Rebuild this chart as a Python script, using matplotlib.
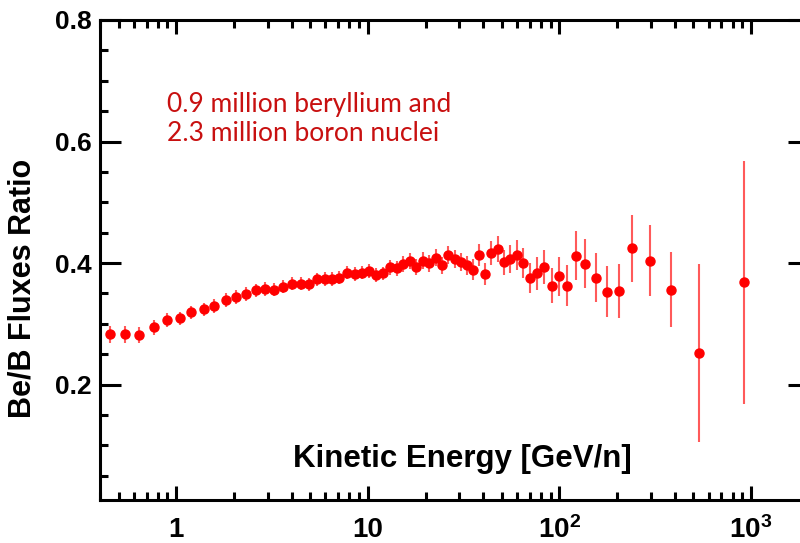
import matplotlib
matplotlib.use('Agg')
import matplotlib.pyplot as plt
import matplotlib.ticker as mticker
import numpy as np

# Be/B flux ratio vs kinetic energy
energy = [0.45, 0.538, 0.641, 0.762, 0.893, 1.04, 1.20, 1.39, 1.58, 1.81,
          2.04, 2.30, 2.60, 2.91, 3.25, 3.61, 4.02, 4.46, 4.93, 5.45,
          5.94, 6.52, 7.11, 7.78, 8.52, 9.30, 10.1, 11.0, 12.0, 13.1,
          14.2, 15.3, 16.6, 17.9, 19.5, 20.9, 22.7, 24.5, 26.3, 28.4,
          30.6, 32.9, 35.5, 38.1, 41.0, 44.0, 47.5, 51.3, 55.3, 59.7,
          64.4, 70.0, 75.9, 83.1, 90.9, 100, 110, 122, 136, 155,
          176, 205, 240, 295, 381, 536, 920]
ratio = [0.283, 0.283, 0.282, 0.294, 0.306, 0.309, 0.319, 0.324, 0.329, 0.339,
         0.344, 0.349, 0.355, 0.357, 0.356, 0.361, 0.366, 0.366, 0.365, 0.373,
         0.374, 0.374, 0.376, 0.384, 0.382, 0.384, 0.387, 0.380, 0.383, 0.393,
         0.391, 0.399, 0.403, 0.393, 0.404, 0.400, 0.409, 0.396, 0.413, 0.406,
         0.402, 0.396, 0.389, 0.413, 0.382, 0.417, 0.423, 0.401, 0.406, 0.413,
         0.400, 0.375, 0.383, 0.394, 0.363, 0.378, 0.363, 0.412, 0.399, 0.376,
         0.353, 0.354, 0.424, 0.404, 0.356, 0.252, 0.368]
err = [0.014, 0.014, 0.013, 0.012, 0.012, 0.011, 0.011, 0.011, 0.011, 0.011,
       0.011, 0.011, 0.011, 0.011, 0.011, 0.011, 0.011, 0.011, 0.011, 0.011,
       0.011, 0.011, 0.011, 0.011, 0.011, 0.011, 0.011, 0.011, 0.011, 0.012,
       0.012, 0.013, 0.013, 0.013, 0.014, 0.014, 0.014, 0.014, 0.015, 0.015,
       0.015, 0.016, 0.017, 0.018, 0.018, 0.020, 0.022, 0.021, 0.023, 0.025,
       0.025, 0.025, 0.027, 0.028, 0.028, 0.032, 0.033, 0.040, 0.040, 0.040,
       0.042, 0.045, 0.055, 0.058, 0.062, 0.146, 0.200]

x_ticks = [1, 10, 100, 1000]
x_ticklabels = ['1', '10', r'$10^{2}$', r'$10^{3}$']
y_ticks = [0.2, 0.4, 0.6, 0.8]
note = ['0.9 million beryllium and', '2.3 million boron nuclei']

plt.rcParams['font.family'] = 'Liberation Sans'
plt.rcParams['font.weight'] = 'bold'
plt.rcParams['mathtext.fontset'] = 'custom'
plt.rcParams['mathtext.rm'] = 'Liberation Sans:bold'
plt.rcParams['mathtext.default'] = 'rm'

fig = plt.figure(figsize=(8, 5.43), dpi=100)
ax = fig.add_axes([0.125, 0.0792, 0.886, 0.884])

ax.errorbar(energy, ratio, yerr=err, fmt='o', color='#ff0000', markersize=6.5,
            ecolor='#ff5a5a', elinewidth=1.5, capsize=0, zorder=3)

ax.set_xscale('log')
ax.set_xlim(0.4, 2000)
ax.set_ylim(0.01, 0.8)

ax.set_xticks(x_ticks)
ax.set_xticklabels(x_ticklabels)
ax.xaxis.set_minor_locator(mticker.LogLocator(base=10, subs=np.arange(2, 10)))
ax.xaxis.set_minor_formatter(mticker.NullFormatter())
ax.set_yticks(y_ticks)
ax.set_yticklabels(['%.1f' % v for v in y_ticks])
ax.yaxis.set_minor_locator(mticker.MultipleLocator(0.05))

for s in ax.spines.values():
    s.set_linewidth(2.2)

ax.tick_params(axis='both', which='both', direction='in', top=True, right=True,
               width=2.2)
ax.tick_params(axis='x', which='major', length=10, pad=12, labelsize=20)
ax.tick_params(axis='y', which='major', length=15, pad=6, labelsize=19)
ax.tick_params(axis='both', which='minor', length=6)

ax.set_ylabel('Be/B Fluxes Ratio', fontsize=22, fontweight='bold')
ax.yaxis.set_label_coords(-0.088, 0.44)

# x label sits inside the frame
ax.text(0.511, 0.069, 'Kinetic Energy [GeV/n]', transform=ax.transAxes,
        ha='center', va='baseline', fontsize=22.5, fontweight='bold')

ax.text(0.0945, 0.808, note[0], transform=ax.transAxes, ha='left', va='baseline',
        fontsize=19, color='#c81010', family='Lato', fontweight='normal')
ax.text(0.0945, 0.748, note[1], transform=ax.transAxes, ha='left', va='baseline',
        fontsize=19, color='#c81010', family='Lato', fontweight='normal')

plt.savefig('out.png', dpi=100)
